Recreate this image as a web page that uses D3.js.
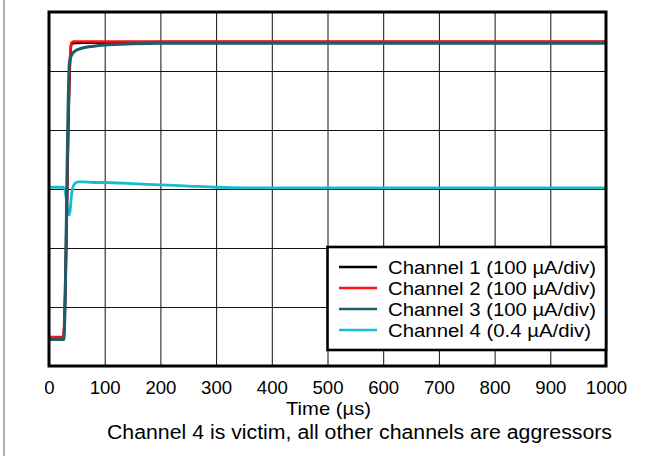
<!DOCTYPE html>
<html>
<head>
<meta charset="utf-8">
<script src="https://cdn.jsdelivr.net/npm/d3@7"></script>
<style>
  html, body { margin: 0; padding: 0; background: #fff; }
  svg { display: block; font-family: "Liberation Sans", Arial, sans-serif; }
</style>
</head>
<body>
<svg id="chart" width="662" height="456"></svg>
<script>
// ---- data (time in µs, signal in screen divisions from bottom) ----
const xTicks = [0, 100, 200, 300, 400, 500, 600, 700, 800, 900, 1000];
const yDivs = [0, 1, 2, 3, 4, 5, 6];

const ch1Time = [0, 26, 38, 39.5, 41, 60, 200, 1000];
const ch1Vals = [0.48, 0.48, 5.2, 5.42, 5.47, 5.48, 5.49, 5.49];

const ch2Time = [0, 25.5, 37.5, 39, 40.5, 44, 100, 1000];
const ch2Vals = [0.49, 0.49, 5.15, 5.4, 5.48, 5.5, 5.5, 5.5];

const ch3Time = [0, 26.5, 36.5, 40, 47, 60, 80, 100, 150, 200, 400, 1000];
const ch3Vals = [0.45, 0.45, 5.12, 5.26, 5.34, 5.39, 5.42, 5.44, 5.46, 5.47, 5.47, 5.47];

const ch4Time = [0, 25, 28, 31, 34, 36, 38, 40, 43, 47, 52, 60, 80, 100, 150, 200, 250, 300, 350, 400, 500, 600, 700, 800, 900, 1000];
const ch4Vals = [3.03, 3.03, 3.0, 2.84, 2.62, 2.56, 2.64, 2.86, 3.03, 3.1, 3.12, 3.12, 3.11, 3.11, 3.09, 3.07, 3.05, 3.03, 3.02, 3.02, 3.02, 3.02, 3.02, 3.02, 3.02, 3.02];

const seriesNames = ["Channel 1 (100 \u00B5A/div)", "Channel 2 (100 \u00B5A/div)", "Channel 3 (100 \u00B5A/div)", "Channel 4 (0.4 \u00B5A/div)"];
const seriesColors = ["#000000", "#ff1010", "#1f5b6b", "#19bccf"];

const xTitle = "Time (\u00B5s)";
const caption = "Channel 4 is victim, all other channels are aggressors";

// ---- layout ----
const L = 49, R = 606, T = 12, B = 366;
const svg = d3.select("#chart");
const x = d3.scaleLinear().domain([0, 1000]).range([L, R]);
const y = d3.scaleLinear().domain([0, 6]).range([B, T]);

// left separator line
svg.append("line").attr("x1", 4).attr("x2", 4).attr("y1", 0).attr("y2", 456)
  .attr("stroke", "#8a8a8a").attr("stroke-width", 1.4);

// grid
svg.append("g").attr("transform", `translate(0,${B})`)
  .call(d3.axisBottom(x).tickValues(xTicks.slice(1, -1)).tickSize(-(B - T)).tickFormat(""))
  .call(g => g.select(".domain").remove())
  .call(g => g.selectAll("line").attr("stroke", "#111").attr("stroke-width", 1));
svg.append("g").attr("transform", `translate(${L},0)`)
  .call(d3.axisLeft(y).tickValues(yDivs.slice(1, -1)).tickSize(-(R - L)).tickFormat(""))
  .call(g => g.select(".domain").remove())
  .call(g => g.selectAll("line").attr("stroke", "#111").attr("stroke-width", 1));

// traces
const line = d3.line().x(d => x(d[0])).y(d => y(d[1])).curve(d3.curveMonotoneX);
const series = [
  { t: ch1Time, v: ch1Vals, c: seriesColors[0], w: 2.6 },
  { t: ch2Time, v: ch2Vals, c: seriesColors[1], w: 2.6 },
  { t: ch3Time, v: ch3Vals, c: seriesColors[2], w: 3 },
  { t: ch4Time, v: ch4Vals, c: seriesColors[3], w: 2.8 }
];
const drawOrder = [3, 0, 1, 2];
drawOrder.forEach(i => {
  const s = series[i];
  svg.append("path").datum(s.t.map((t, k) => [t, s.v[k]]))
    .attr("d", line).attr("fill", "none")
    .attr("stroke", s.c).attr("stroke-width", s.w)
    .attr("stroke-linejoin", "round");
});

// plot border
svg.append("rect").attr("x", L).attr("y", T).attr("width", R - L).attr("height", B - T)
  .attr("fill", "none").attr("stroke", "#000").attr("stroke-width", 3);

// x tick labels
svg.append("g").attr("transform", `translate(0,${B})`)
  .call(d3.axisBottom(x).tickValues(xTicks).tickSize(0).tickPadding(0).tickFormat(d3.format("d")))
  .call(g => g.select(".domain").remove())
  .call(g => g.selectAll("text").attr("y", 27.5).attr("dy", null)
    .attr("font-size", 18.6).attr("fill", "#000").attr("font-family", "Liberation Sans, Arial, sans-serif"));

function stretchText(sel, width) {
  sel.attr("textLength", width).attr("lengthAdjust", "spacingAndGlyphs");
}

// axis title
svg.append("text").attr("x", 328.5).attr("y", 415).attr("text-anchor", "middle")
  .attr("font-size", 18.5).attr("fill", "#000").text(xTitle)
  .call(stretchText, 85);

// caption
svg.append("text").attr("x", 107).attr("y", 439).attr("font-size", 20)
  .attr("fill", "#000").text(caption)
  .call(stretchText, 505);

// legend
const lg = svg.append("g");
lg.append("rect").attr("x", 327.5).attr("y", 247).attr("width", 606 - 327.5).attr("height", 103)
  .attr("fill", "#fff").attr("stroke", "#000").attr("stroke-width", 2.6);
const rowY = d3.scaleLinear().domain([0, 3]).range([267, 330]);
seriesNames.forEach((name, i) => {
  lg.append("line").attr("x1", 339).attr("x2", 377).attr("y1", rowY(i)).attr("y2", rowY(i))
    .attr("stroke", seriesColors[i]).attr("stroke-width", 2.6);
  lg.append("text").attr("x", 388).attr("y", rowY(i) + 6.5).attr("font-size", 18)
    .attr("fill", "#000").text(name)
    .call(stretchText, i === 3 ? 203 : 208);
});
</script>
</body>
</html>
